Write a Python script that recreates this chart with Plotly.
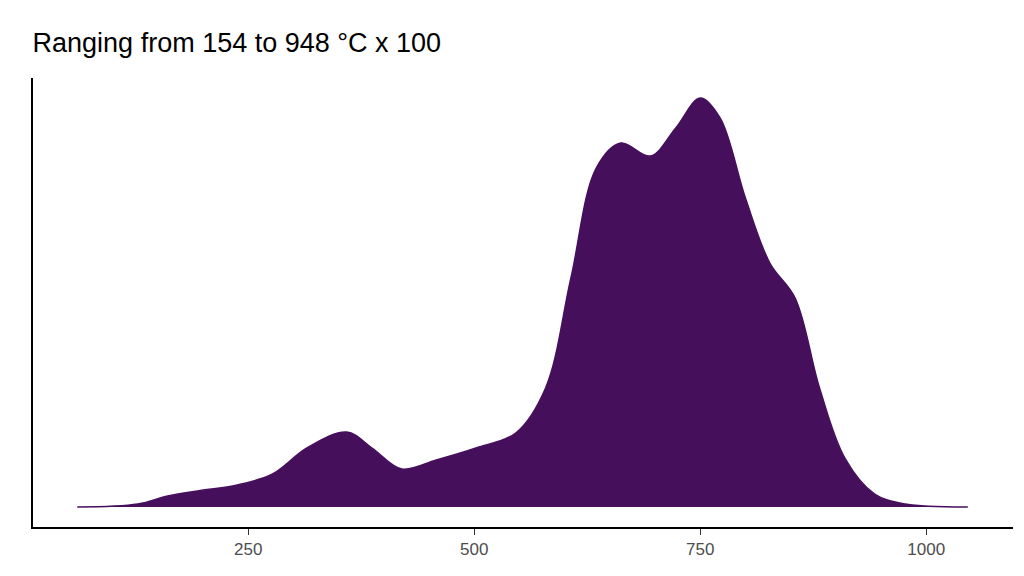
import plotly.graph_objects as go

x_vals = [61, 128, 161, 194, 238, 277, 315, 359, 387, 420, 458, 502, 546, 579, 607, 635, 662, 695, 723, 750, 772, 800, 827, 855, 882, 910, 943, 977, 1046]
density = [0, 3, 11, 16, 22, 33, 59, 75, 59, 38, 47, 59, 74, 119, 229, 339, 364, 351, 379, 409, 389, 309, 244, 209, 119, 49, 13, 3, 0]
tick_vals = [250, 500, 750, 1000]
title = "Ranging from 154 to 948 °C x 100"

fig = go.Figure(go.Scatter(
    x=x_vals, y=density, mode="lines", fill="tozeroy",
    line=dict(color="#460F5C", width=1.5, shape="spline", smoothing=1.0),
    fillcolor="#460F5C", hoverinfo="skip"))

fig.update_layout(
    width=1024, height=576, paper_bgcolor="white", plot_bgcolor="white",
    margin=dict(l=25, r=19, t=70, b=57), showlegend=False,
    title=dict(text=title, x=0.024, xanchor="left", y=0.94, yanchor="middle",
               font=dict(family="Liberation Sans, Arial", size=27, color="black")),
    xaxis=dict(range=[12, 1096], tickvals=tick_vals, showgrid=False, zeroline=False,
               showline=True, linecolor="black", linewidth=2, ticks="outside",
               ticklen=6, tickcolor="#333", tickfont=dict(family="Liberation Sans, Arial", size=17, color="#4d4d4d")),
    yaxis=dict(range=[-20, 429], showticklabels=False, showgrid=False, zeroline=False,
               showline=True, linecolor="black", linewidth=2, ticks=""),
)
fig.write_html("out.html")
